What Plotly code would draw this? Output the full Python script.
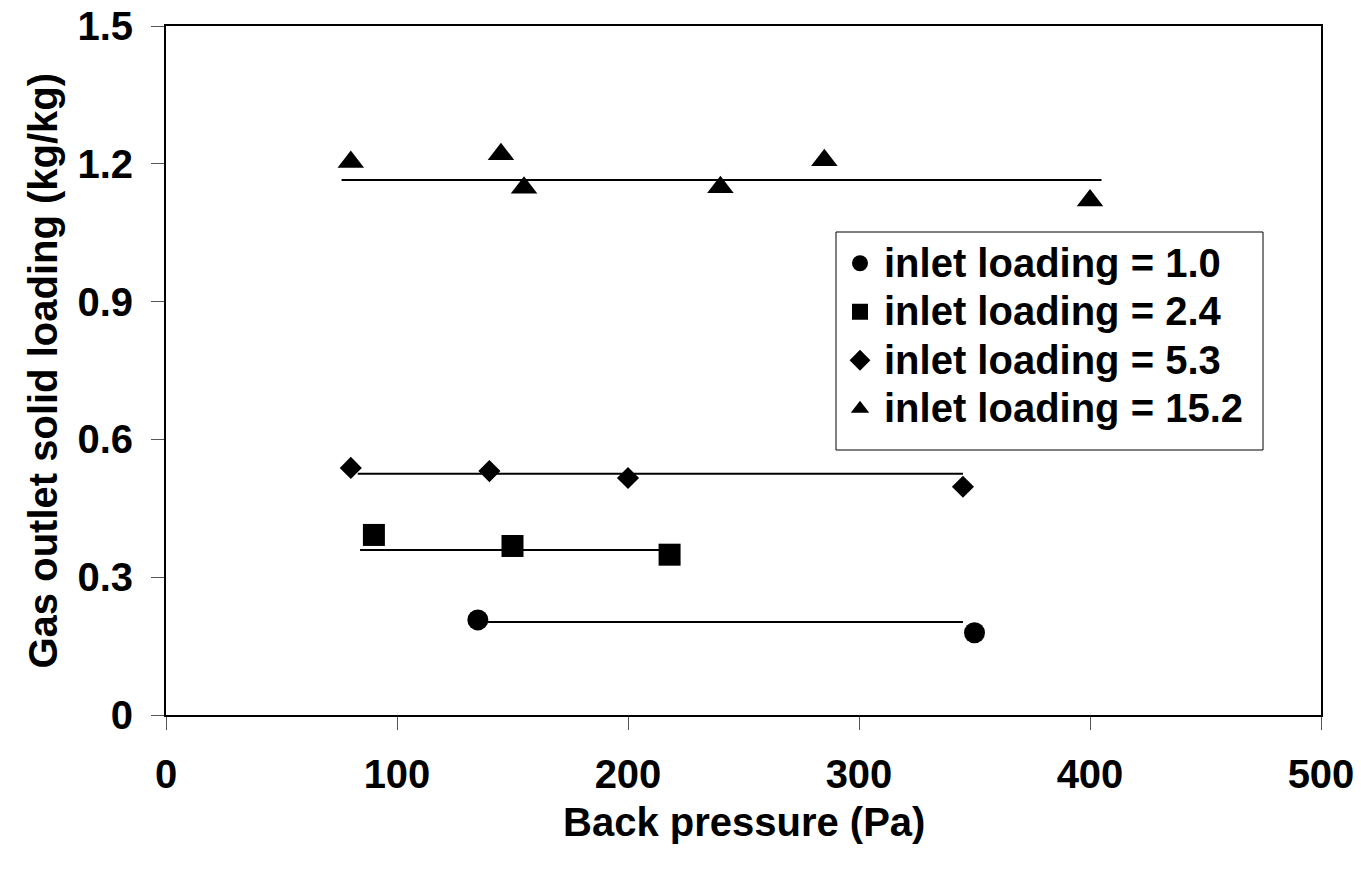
import plotly.graph_objects as go

# Data
circle_x = [135, 350]
circle_y = [0.207, 0.179]
square_x = [90, 150, 218]
square_y = [0.392, 0.368, 0.349]
diamond_x = [80, 140, 200, 345]
diamond_y = [0.538, 0.531, 0.516, 0.497]
triangle_x = [80, 145, 155, 240, 285, 400]
triangle_y = [1.204, 1.221, 1.148, 1.149, 1.208, 1.120]

# horizontal trend lines (x-extent, level)
trend_circle_x = [135, 345]
trend_circle_y = [0.2025, 0.2025]
trend_square_x = [84, 218]
trend_square_y = [0.359, 0.359]
trend_diamond_x = [83, 345]
trend_diamond_y = [0.525, 0.525]
trend_triangle_x = [76, 405]
trend_triangle_y = [1.165, 1.165]

names = ["inlet loading = 1.0", "inlet loading = 2.4",
         "inlet loading = 5.3", "inlet loading = 15.2"]

x_ticks = [0, 100, 200, 300, 400, 500]
y_ticks = [0, 0.3, 0.6, 0.9, 1.2, 1.5]
y_tick_text = ["0", "0.3", "0.6", "0.9", "1.2", "1.5"]

FONT = "Liberation Sans, Arial, sans-serif"

W, H = 1361, 871
PL, PR, PT, PB = 166, 1321, 26, 715  # plot area in window pixels

fig = go.Figure()

for tx, ty in [(trend_circle_x, trend_circle_y), (trend_square_x, trend_square_y),
               (trend_diamond_x, trend_diamond_y), (trend_triangle_x, trend_triangle_y)]:
    fig.add_trace(go.Scatter(x=tx, y=ty, mode="lines", showlegend=False,
                             line=dict(color="black", width=2), hoverinfo="skip"))

series = [
    (circle_x, circle_y, "circle", 21, names[0]),
    (square_x, square_y, "square", 22, names[1]),
    (diamond_x, diamond_y, "diamond", 17, names[2]),
    (triangle_x, triangle_y, "triangle-up", 23, names[3]),
]
for sx, sy, sym, sz, nm in series:
    fig.add_trace(go.Scatter(x=sx, y=sy, mode="markers",
                             name='<span style="font-size:40px">' + nm + '</span>',
                             marker=dict(symbol=sym, size=sz, color="black",
                                         line=dict(width=0))))

pw = PR - PL
ph = PB - PT

# legend frame (window pixels)
LX0, LX1, LY0, LY1 = 836, 1263, 232, 450

fig.update_layout(
    width=W, height=H, autosize=False,
    margin=dict(l=PL, r=W - PR, t=PT, b=H - PB),
    paper_bgcolor="white", plot_bgcolor="white",
    font=dict(family=FONT, size=40, color="black"),
    showlegend=True,
    legend=dict(x=(LX0 - PL) / pw, y=(PB - 234) / ph, xanchor="left", yanchor="top",
                bgcolor="rgba(0,0,0,0)", borderwidth=0,
                font=dict(family=FONT, size=35, color="black", weight="bold"),
                itemsizing="trace", itemwidth=38),
    shapes=[dict(type="rect", xref="paper", yref="paper",
                 x0=(LX0 - PL) / pw, x1=(LX1 - PL) / pw,
                 y0=(PB - LY1) / ph, y1=(PB - LY0) / ph,
                 line=dict(color="black", width=1), fillcolor="white", layer="below")],
    xaxis=dict(range=[0, 500], tickmode="array", tickvals=x_ticks,
               showgrid=False, zeroline=False, showline=True, linecolor="black",
               linewidth=2, mirror=True, ticks="outside", ticklen=13, tickwidth=1,
               tickcolor="#555555", automargin=False, ticklabeloverflow="allow",
               tickfont=dict(family=FONT, size=40, weight="bold"),
               ticklabelstandoff=10),
    yaxis=dict(range=[0, 1.5], tickmode="array", tickvals=y_ticks, ticktext=y_tick_text,
               showgrid=False, zeroline=False, showline=True, linecolor="black",
               linewidth=2, mirror=True, ticks="outside", ticklen=13, tickwidth=1,
               tickcolor="#555555", automargin=False, ticklabeloverflow="allow",
               tickfont=dict(family=FONT, size=40, weight="bold"),
               ticklabelstandoff=10),
    annotations=[
        dict(text="Back pressure (Pa)", xref="paper", yref="paper", x=0.5,
             y=(PB - 822) / ph,
             showarrow=False, xanchor="center", yanchor="middle",
             font=dict(family=FONT, size=40, weight="bold")),
        dict(text="Gas outlet solid loading (kg/kg)", xref="paper", yref="paper",
             x=(42 - PL) / pw, y=0.5, textangle=-90,
             showarrow=False, xanchor="center", yanchor="middle",
             font=dict(family=FONT, size=40, weight="bold")),
    ],
)

fig.write_html("out.html", config={"displayModeBar": False},
               post_script="document.body.style.margin='0';document.body.style.overflow='hidden';")
